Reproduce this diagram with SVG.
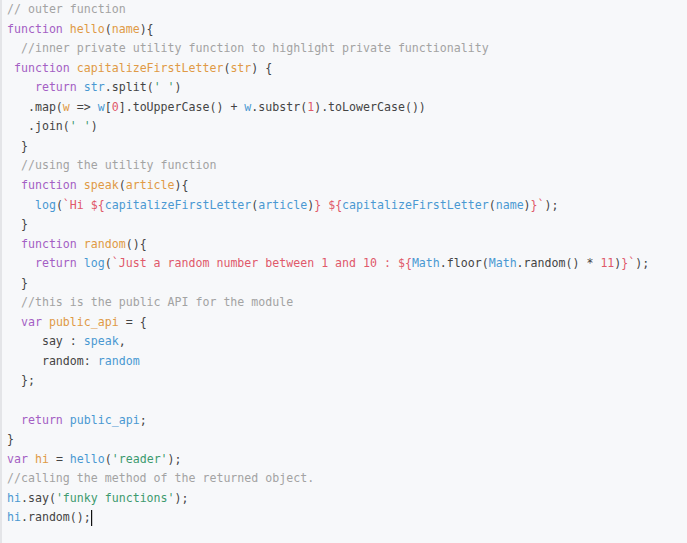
<svg xmlns="http://www.w3.org/2000/svg" width="687" height="543" viewBox="0 0 687 543">
<style>
text{font-family:"DejaVu Sans Mono","Liberation Mono",monospace;font-size:11.6px;fill:#444;white-space:pre}
.c{fill:#a3a3a3}.k{fill:#a45fc4}.o{fill:#e09a45}.b{fill:#4a98d2}.g{fill:#3d9a6e}.r{fill:#e0596a}
</style>
<rect width="687" height="543" fill="#f7f8fa"/>
<rect x="0" y="0" width="2" height="543" fill="#e4e5e8"/>
<g id="code" xml:space="preserve">
<text x="7" y="13"><tspan class="c">// outer function</tspan></text>
<text x="7" y="32.5"><tspan class="k">function</tspan> <tspan class="o">hello</tspan>(<tspan class="o">name</tspan>){</text>
<text x="7" y="52.1">  <tspan class="c">//inner private utility function to highlight private functionality</tspan></text>
<text x="7" y="71.6"> <tspan class="k">function</tspan> <tspan class="o">capitalizeFirstLetter</tspan>(<tspan class="o">str</tspan>) {</text>
<text x="7" y="91.2">    <tspan class="k">return</tspan> <tspan class="b">str</tspan>.split(<tspan class="g">' '</tspan>)</text>
<text x="7" y="110.7">   .map(<tspan class="o">w</tspan> =&gt; <tspan class="b">w</tspan>[<tspan class="r">0</tspan>].toUpperCase() + <tspan class="b">w</tspan>.substr(<tspan class="r">1</tspan>).toLowerCase())</text>
<text x="7" y="130.3">   .join(<tspan class="g">' '</tspan>)</text>
<text x="7" y="149.8">  }</text>
<text x="7" y="169.4">  <tspan class="c">//using the utility function</tspan></text>
<text x="7" y="188.9">  <tspan class="k">function</tspan> <tspan class="o">speak</tspan>(<tspan class="o">article</tspan>){</text>
<text x="7" y="208.5">    <tspan class="b">log</tspan>(<tspan class="r">`Hi ${</tspan><tspan class="b">capitalizeFirstLetter</tspan>(<tspan class="b">article</tspan>)<tspan class="r">} ${</tspan><tspan class="b">capitalizeFirstLetter</tspan>(<tspan class="b">name</tspan>)<tspan class="r">}`</tspan>);</text>
<text x="7" y="228">  }</text>
<text x="7" y="247.6">  <tspan class="k">function</tspan> <tspan class="o">random</tspan>(){</text>
<text x="7" y="267.1">    <tspan class="k">return</tspan> <tspan class="b">log</tspan>(<tspan class="r">`Just a random number between 1 and 10 : ${</tspan><tspan class="b">Math</tspan>.floor(<tspan class="b">Math</tspan>.random() * <tspan class="r">11</tspan>)<tspan class="r">}`</tspan>);</text>
<text x="7" y="286.7">  }</text>
<text x="7" y="306.2">  <tspan class="c">//this is the public API for the module</tspan></text>
<text x="7" y="325.8">  <tspan class="k">var</tspan> <tspan class="o">public_api</tspan> = {</text>
<text x="7" y="345.3">     say : <tspan class="b">speak</tspan>,</text>
<text x="7" y="364.9">     random: <tspan class="b">random</tspan></text>
<text x="7" y="384.4">  };</text>
<text x="7" y="423.5">  <tspan class="k">return</tspan> <tspan class="b">public_api</tspan>;</text>
<text x="7" y="443.1">}</text>
<text x="7" y="462.6"><tspan class="k">var</tspan> <tspan class="o">hi</tspan> = <tspan class="b">hello</tspan>(<tspan class="g">'reader'</tspan>);</text>
<text x="7" y="482.2"><tspan class="c">//calling the method of the returned object.</tspan></text>
<text x="7" y="501.7"><tspan class="b">hi</tspan>.say(<tspan class="g">'funky functions'</tspan>);</text>
<text x="7" y="521.3"><tspan class="b">hi</tspan>.random();</text>
<rect x="91" y="510" width="1.2" height="16" fill="#111"/>
</g>
</svg>
